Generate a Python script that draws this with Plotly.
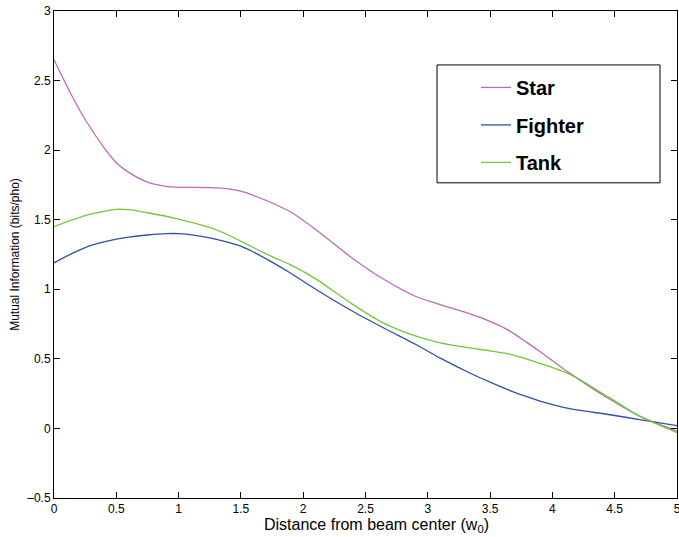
import plotly.graph_objects as go

x_vals = [0, 0.15, 0.25, 0.4, 0.5, 0.6, 0.75, 0.9, 1.0, 1.25, 1.4, 1.5, 1.6, 1.75, 1.9,
          2.1, 2.4, 2.65, 2.9, 3.1, 3.35, 3.5, 3.65, 3.8, 3.9, 4.15, 4.45, 4.7, 5.0]
star = [2.65, 2.38, 2.22, 2.02, 1.91, 1.84, 1.77, 1.74, 1.733, 1.731, 1.722, 1.705, 1.675, 1.62, 1.555,
        1.43, 1.22, 1.07, 0.95, 0.89, 0.82, 0.77, 0.705, 0.615, 0.553, 0.39, 0.215, 0.088, -0.02]
fighter = [1.19, 1.26, 1.30, 1.34, 1.36, 1.375, 1.39, 1.40, 1.40, 1.37, 1.337, 1.31, 1.268, 1.195, 1.115,
           1.00, 0.84, 0.72, 0.605, 0.505, 0.393, 0.333, 0.276, 0.226, 0.197, 0.14, 0.10, 0.064, 0.02]
tank = [1.45, 1.50, 1.53, 1.56, 1.575, 1.572, 1.55, 1.525, 1.505, 1.445, 1.39, 1.345, 1.30, 1.235, 1.175,
        1.075, 0.89, 0.755, 0.665, 0.615, 0.577, 0.558, 0.535, 0.497, 0.468, 0.385, 0.225, 0.088, -0.03]

x_ticks = [0, 0.5, 1, 1.5, 2, 2.5, 3, 3.5, 4, 4.5, 5]
x_ticktext = ["0", "0.5", "1", "1.5", "2", "2.5", "3", "3.5", "4", "4.5", "5"]
y_ticks = [-0.5, 0, 0.5, 1, 1.5, 2, 2.5, 3]
y_ticktext = ["\u20130.5", "0", "0.5", "1", "1.5", "2", "2.5", "3"]

series = [("Star", star, "#b96bb9"), ("Fighter", fighter, "#3050a8"), ("Tank", tank, "#72c934")]

fig = go.Figure()
for name, ys, col in series:
    fig.add_trace(go.Scatter(x=x_vals, y=ys, mode="lines", name=name,
                             line=dict(color=col, width=1.3, shape="spline", smoothing=0.8),
                             legendgroup=name))

font_fam = "Liberation Sans, Arial, sans-serif"
axis_common = dict(showline=True, linecolor="black", linewidth=1, mirror="ticks",
                   ticks="inside", ticklen=6, tickcolor="black", showgrid=False, zeroline=False,
                   ticklabeloverflow="allow", automargin=False,
                   tickfont=dict(family=font_fam, size=12, color="black"))

W, H = 679, 537
L, T, R, B = 54, 11, 2, 38.5
pw = W - L - R
ph = H - T - B


def px_to_paper_x(px):
    return (px - L) / pw


def px_to_paper_y(py):
    return 1 - (py - T) / ph


fig.update_layout(
    width=W, height=H,
    margin=dict(l=L, r=R, t=T, b=B, autoexpand=False),
    plot_bgcolor="white", paper_bgcolor="white",
    font=dict(family=font_fam, color="black"),
    xaxis=dict(range=[0, 5], tickvals=x_ticks, ticktext=x_ticktext, **axis_common),
    yaxis=dict(range=[-0.5, 3], tickvals=y_ticks, ticktext=y_ticktext,
               title=dict(text="Mutual Information (bits/pho)", font=dict(size=12), standoff=5),
               **axis_common),
    legend=dict(x=px_to_paper_x(476), y=px_to_paper_y(68), xanchor="left", yanchor="top",
                borderwidth=0, bgcolor="rgba(0,0,0,0)",
                font=dict(size=20, family=font_fam, weight="bold"),
                tracegroupgap=8.5, traceorder="grouped"),
    showlegend=True,
    shapes=[dict(type="rect", xref="paper", yref="paper",
                 x0=px_to_paper_x(437), x1=px_to_paper_x(660),
                 y0=px_to_paper_y(183), y1=px_to_paper_y(65),
                 line=dict(color="black", width=1), fillcolor="white", layer="below")],
    annotations=[dict(text="Distance from beam center (w<sub>0</sub>)", showarrow=False,
                      xref="paper", yref="paper", x=px_to_paper_x(376), y=px_to_paper_y(526.5),
                      xanchor="center", yanchor="middle", font=dict(size=16))],
)

fig.write_html("out.html", config={"displayModeBar": False},
               post_script="document.body.style.margin='0px';")
